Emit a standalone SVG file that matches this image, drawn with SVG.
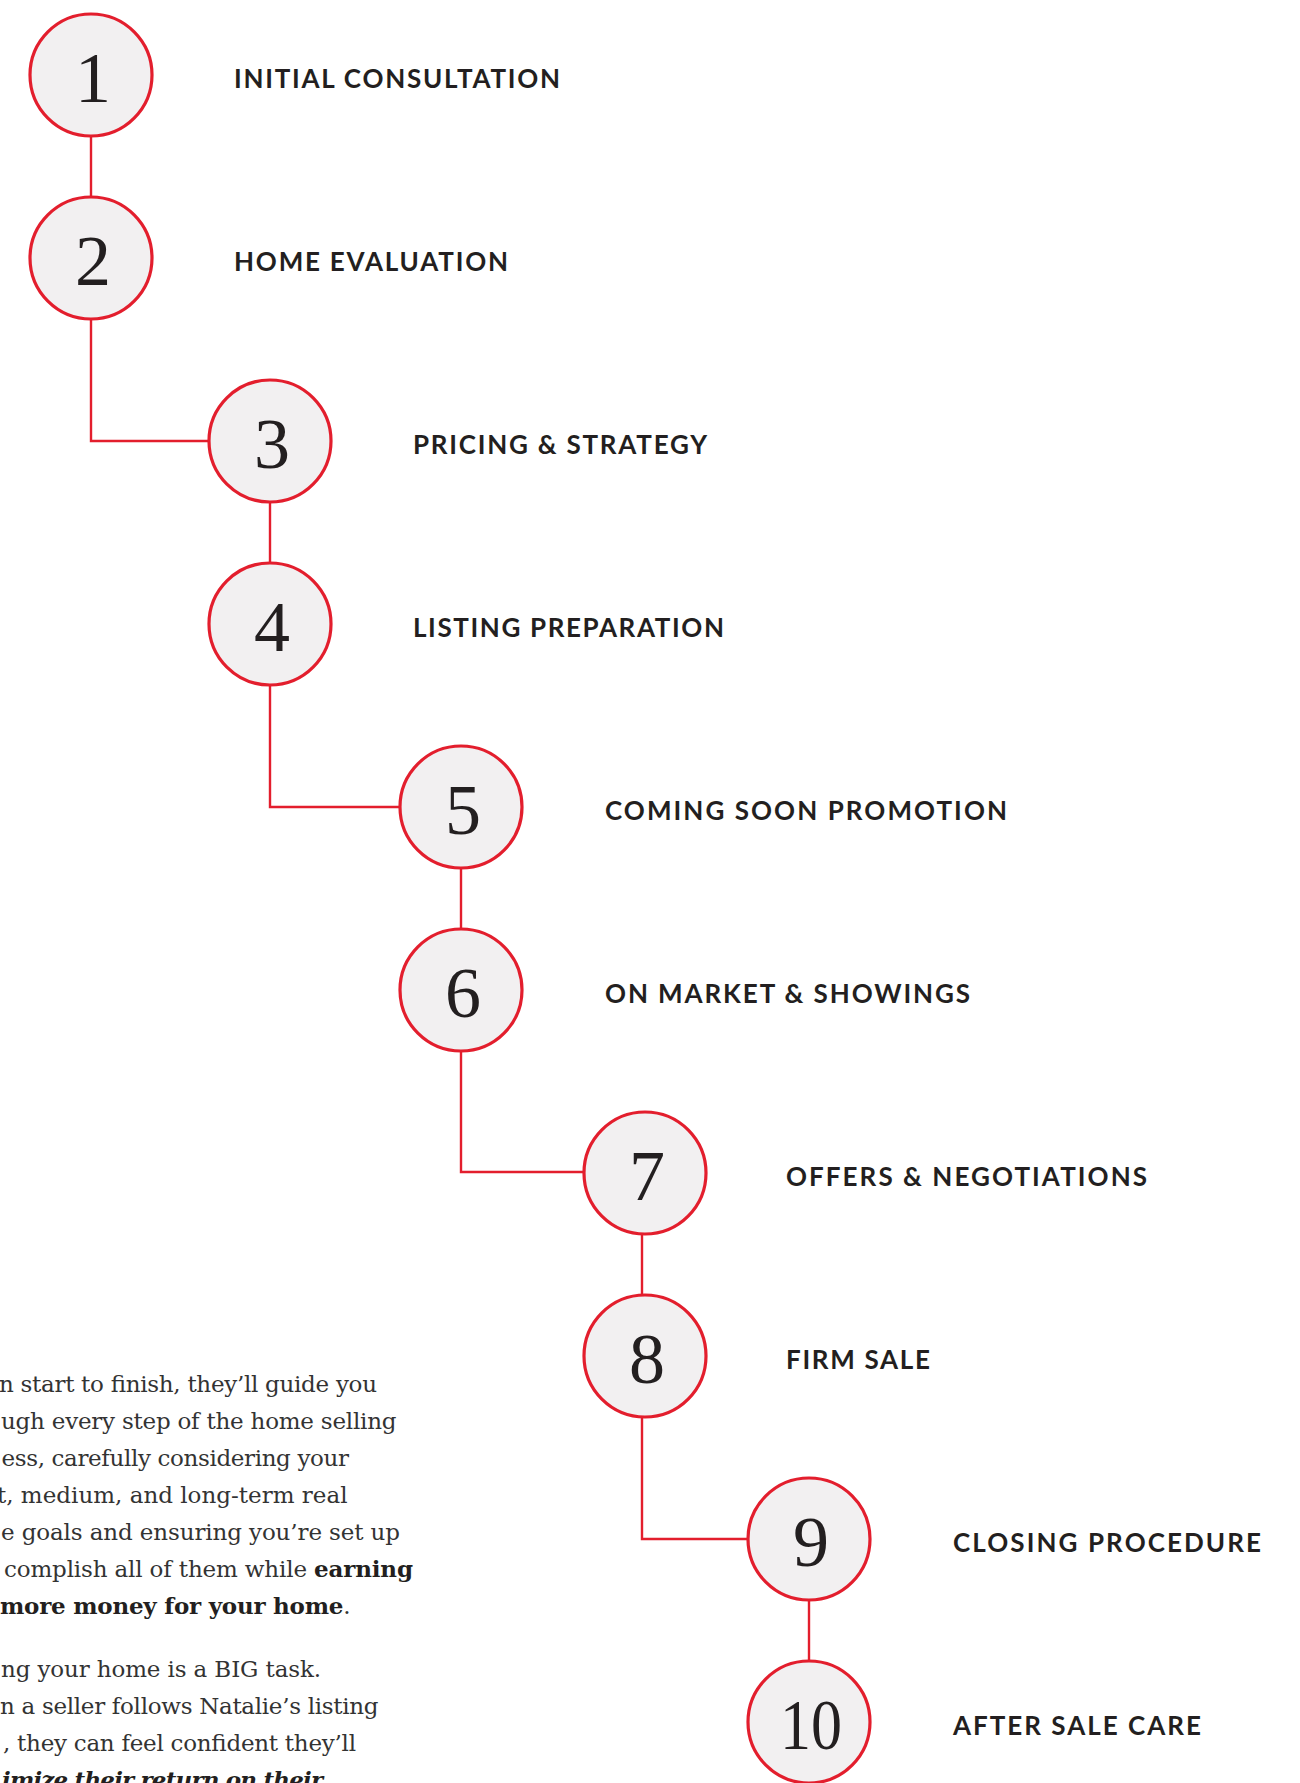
<svg xmlns="http://www.w3.org/2000/svg" width="1300" height="1783" viewBox="0 0 1300 1783">
<style>
.bg{fill:#ffffff}
.node circle{fill:#f2f0f1;stroke:#e31e2d;stroke-width:3.2}
.num{font-family:"Liberation Serif","Times New Roman",serif;font-size:72px;fill:#231f20;text-anchor:middle}
.lbl{font-family:Lato,"Noto Sans",sans-serif;font-weight:700;font-size:26px;fill:#231f20}
.conn path{fill:none;stroke:#e31e2d;stroke-width:2.4}
.body{font-family:"DejaVu Serif","Liberation Serif",serif;font-size:23px;fill:#333333}
.b{font-weight:700;fill:#231f20}
</style>
<rect class="bg" x="0" y="0" width="1300" height="1783"/>
<g id="connectors" class="conn">
<path d="M91 137 V197"/>
<path d="M91 319 V441 H209"/>
<path d="M270 502 V563"/>
<path d="M270 685 V807 H400"/>
<path d="M461 868 V929"/>
<path d="M461 1051 V1172 H584"/>
<path d="M642 1234 V1295"/>
<path d="M642 1417 V1539 H748"/>
<path d="M809 1600 V1661"/>
</g>
<g id="step1" class="node"><circle cx="91" cy="75" r="61"/><text class="num" x="93" y="102">1</text><text class="lbl" x="234" y="88" textLength="326" lengthAdjust="spacing">INITIAL CONSULTATION</text></g>
<g id="step2" class="node"><circle cx="91" cy="258" r="61"/><text class="num" x="93" y="285">2</text><text class="lbl" x="234" y="271" textLength="274" lengthAdjust="spacing">HOME EVALUATION</text></g>
<g id="step3" class="node"><circle cx="270" cy="441" r="61"/><text class="num" x="272" y="468">3</text><text class="lbl" x="413" y="454" textLength="294" lengthAdjust="spacing">PRICING &amp; STRATEGY</text></g>
<g id="step4" class="node"><circle cx="270" cy="624" r="61"/><text class="num" x="272" y="651">4</text><text class="lbl" x="413" y="637" textLength="311" lengthAdjust="spacing">LISTING PREPARATION</text></g>
<g id="step5" class="node"><circle cx="461" cy="807" r="61"/><text class="num" x="463" y="834">5</text><text class="lbl" x="605" y="820" textLength="402" lengthAdjust="spacing">COMING SOON PROMOTION</text></g>
<g id="step6" class="node"><circle cx="461" cy="990" r="61"/><text class="num" x="463" y="1017">6</text><text class="lbl" x="605" y="1003" textLength="365" lengthAdjust="spacing">ON MARKET &amp; SHOWINGS</text></g>
<g id="step7" class="node"><circle cx="645" cy="1173" r="61"/><text class="num" x="647" y="1200">7</text><text class="lbl" x="786" y="1186" textLength="361" lengthAdjust="spacing">OFFERS &amp; NEGOTIATIONS</text></g>
<g id="step8" class="node"><circle cx="645" cy="1356" r="61"/><text class="num" x="647" y="1383">8</text><text class="lbl" x="786" y="1369" textLength="144" lengthAdjust="spacing">FIRM SALE</text></g>
<g id="step9" class="node"><circle cx="809" cy="1539" r="61"/><text class="num" x="811" y="1566">9</text><text class="lbl" x="953" y="1552" textLength="308" lengthAdjust="spacing">CLOSING PROCEDURE</text></g>
<g id="step10" class="node"><circle cx="809" cy="1722" r="61"/><text class="num" x="811" y="1749" textLength="62" lengthAdjust="spacingAndGlyphs">10</text><text class="lbl" x="953" y="1735" textLength="248" lengthAdjust="spacing">AFTER SALE CARE</text></g>
<g id="paragraphs" class="body">
<text x="-1" y="1391.5" textLength="378" lengthAdjust="spacing">n start to finish, they’ll guide you</text>
<text x="1" y="1428.5" textLength="395.5" lengthAdjust="spacing">ugh every step of the home selling</text>
<text x="1.5" y="1465.5" textLength="347.5" lengthAdjust="spacing">ess, carefully considering your</text>
<text x="-3" y="1502.5" textLength="350.5" lengthAdjust="spacing">t, medium, and long-term real</text>
<text x="1" y="1539.5" textLength="399" lengthAdjust="spacing">e goals and ensuring you’re set up</text>
<text x="4" y="1576.5" textLength="409" lengthAdjust="spacing">complish all of them while <tspan class="b">earning</tspan></text>
<text x="0" y="1614" textLength="350.5" lengthAdjust="spacing"><tspan class="b">more money for your home</tspan>.</text>
<text x="1" y="1676.5" textLength="320" lengthAdjust="spacing">ng your home is a BIG task.</text>
<text x="0" y="1713.5" textLength="378.5" lengthAdjust="spacing">n a seller follows Natalie’s listing</text>
<text x="3" y="1750.5" textLength="353" lengthAdjust="spacing">, they can feel confident they’ll</text>
<text x="2" y="1787.5" textLength="321" lengthAdjust="spacing" class="b" font-style="italic">imize their return on their</text>
</g>
</svg>
